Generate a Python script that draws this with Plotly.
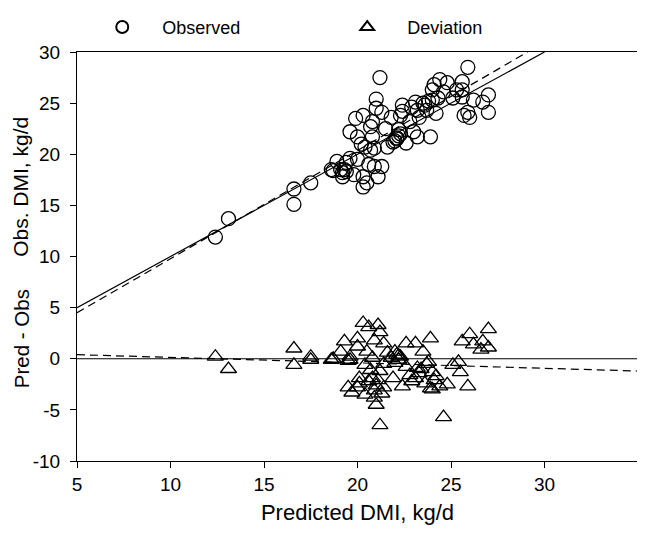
import plotly.graph_objects as go

# Observed DMI (circles): predicted vs observed, kg/d
obs_pred = [12.4, 13.1, 16.6, 16.6, 17.5, 18.7, 21.2, 25.9, 21.0, 20.3,
            20.8, 21.0, 21.3, 19.6, 20.0, 20.7, 20.8, 20.4, 20.7, 20.9,
            21.6, 19.6, 19.4, 19.1, 18.6, 19.2, 19.8, 20.3, 20.3, 20.5,
            21.1, 20.9, 21.3, 21.8, 22.4, 22.3, 22.8, 22.2, 22.1, 22.6,
            23.2, 23.9, 23.0, 23.1, 23.5, 23.7, 23.2, 23.3, 24.0, 24.1,
            24.4, 24.8, 25.3, 25.6, 25.6, 25.6, 25.1, 24.0, 24.6, 26.2,
            27.0, 26.7, 27.0, 25.9, 25.7, 26.0, 22.0, 22.1, 22.2, 21.9,
            22.3, 19.2, 19.3, 19.4, 23.6, 23.8, 24.3, 19.9, 20.0, 20.6,
            22.4, 21.5, 18.9, 24.2, 22.9, 20.2]
obs_val = [11.9, 13.7, 16.6, 15.1, 17.2, 18.4, 27.5, 28.5, 25.4, 23.8,
           23.2, 24.5, 24.1, 22.2, 21.7, 22.7, 21.7, 20.7, 20.4, 20.6,
           20.7, 19.6, 19.2, 18.5, 18.5, 17.8, 18.0, 17.8, 16.8, 17.2,
           17.8, 18.8, 18.8, 23.6, 24.8, 23.8, 23.2, 22.4, 21.6, 21.1,
           21.7, 21.7, 22.2, 25.1, 25.0, 24.3, 24.3, 23.6, 26.3, 26.8,
           27.3, 27.0, 26.3, 27.1, 26.3, 25.6, 25.5, 25.3, 26.1, 25.3,
           25.8, 25.1, 24.1, 24.1, 23.8, 23.6, 21.3, 21.5, 21.8, 21.2,
           22.0, 18.2, 18.5, 18.3, 24.8, 25.2, 25.5, 23.5, 19.5, 19.0,
           24.2, 22.5, 19.3, 24.0, 24.6, 21.0]

# Deviation (triangles): predicted minus observed, kg/d
dev_pred = [12.4, 13.1, 16.6, 16.6, 17.5, 18.7, 17.5, 18.6, 19.1, 19.3,
            19.6, 19.5, 20.0, 20.0, 20.3, 20.6, 21.1, 21.2, 20.9, 21.4,
            20.5, 20.8, 20.4, 20.7, 20.1, 20.8, 21.1, 21.4, 20.4, 20.9,
            21.0, 21.2, 20.0, 21.6, 22.0, 22.2, 22.3, 22.6, 23.1, 23.5,
            23.9, 21.9, 22.4, 22.8, 22.6, 23.2, 23.1, 23.3, 23.6, 23.9,
            24.0, 24.1, 24.4, 24.8, 23.8, 24.0, 24.6, 25.1, 25.4, 25.5,
            25.9, 25.6, 26.0, 26.2, 26.7, 27.0, 27.0, 26.6, 19.5, 20.1,
            20.9, 21.0, 21.2, 21.4, 21.8, 22.2, 19.6, 19.7, 22.0, 22.1,
            23.4, 23.7, 24.2, 20.6, 21.3, 22.9]
dev_val = [0.2, -1.0, 1.0, -0.6, 0.2, 0.0, -0.1, -0.1, 0.7, 1.7,
           -0.1, -2.8, 1.2, 2.0, 3.5, 3.1, 3.3, 2.6, 1.8, 1.5,
           0.7, 0.1, -0.6, -1.1, -1.9, -1.9, -2.1, -2.8, -3.5, -3.8,
           -4.5, -6.5, -2.8, 0.6, 0.7, -0.1, 0.2, 1.5, 1.5, 0.7,
           2.0, -1.9, -2.7, -1.6, -0.8, -0.9, -1.9, -1.4, -2.4, -2.9,
           -1.3, -2.1, -2.7, -2.5, -0.3, -3.0, -5.7, -0.6, -0.3, -1.3,
           -2.7, 1.7, 2.4, 1.4, 1.7, 2.9, 1.1, 0.9, -0.2, -2.4,
           -3.1, -2.6, -1.2, -0.5, 0.1, 0.3, 0.2, -3.3, -0.4, 0.4,
           -1.0, -0.5, -1.7, -2.2, -3.4, -2.2]

# Reference and regression lines
identity_x = [5, 30]
identity_y = [5, 30]
fit_obs_x = [5, 29.1]
fit_obs_y = [4.5, 30]
zero_x = [5, 35]
zero_y = [0, 0]
fit_dev_x = [5, 35]
fit_dev_y = [0.4, -1.2]

x_ticks = [5, 10, 15, 20, 25, 30, 35]
x_tick_labels = ["5", "10", "15", "20", "25", "30", "35"]
y_ticks = [-10, -5, 0, 5, 10, 15, 20, 25, 30]
y_tick_labels = ["-10", "-5", "0", "5", "10", "15", "20", "25", "30"]

FONT = "Liberation Sans, Arial, sans-serif"

fig = go.Figure()
fig.add_trace(go.Scatter(x=identity_x, y=identity_y, mode="lines",
                         line=dict(color="black", width=1.2), showlegend=False,
                         hoverinfo="skip"))
fig.add_trace(go.Scatter(x=fit_obs_x, y=fit_obs_y, mode="lines",
                         line=dict(color="black", width=1.2, dash="8px,5px"),
                         showlegend=False, hoverinfo="skip"))
fig.add_trace(go.Scatter(x=zero_x, y=zero_y, mode="lines",
                         line=dict(color="black", width=1.2), showlegend=False,
                         hoverinfo="skip"))
fig.add_trace(go.Scatter(x=fit_dev_x, y=fit_dev_y, mode="lines",
                         line=dict(color="black", width=1.2, dash="8px,5px"),
                         showlegend=False, hoverinfo="skip"))
fig.add_trace(go.Scatter(x=obs_pred, y=obs_val, mode="markers", name="    Observed",
                         marker=dict(symbol="circle-open", size=14, color="black",
                                     line=dict(width=1.3, color="black"))))
fig.add_trace(go.Scatter(x=dev_pred, y=dev_val, mode="markers", name="    Deviation",
                         marker=dict(symbol="triangle-up-open", size=14, color="black",
                                     line=dict(width=1.3, color="black"))))

axis_common = dict(showgrid=False, zeroline=False, showline=True, mirror=True,
                   linecolor="black", linewidth=1.2, ticks="outside", ticklen=6,
                   tickwidth=1.2, tickcolor="black",
                   tickfont=dict(family=FONT, size=19, color="black"))

fig.update_xaxes(range=[5, 35], tickvals=x_ticks, ticktext=x_tick_labels,
                 automargin=False, **axis_common,
                 title=dict(text="Predicted DMI, kg/d",
                            font=dict(family=FONT, size=22, color="black"),
                            standoff=10))
fig.update_yaxes(range=[-10, 30], tickvals=y_ticks, ticktext=y_tick_labels,
                 automargin=False, ticklabelstandoff=6, **axis_common)

fig.add_annotation(text="Obs. DMI, kg/d", xref="paper", yref="y", x=-0.1, y=16.8,
                   xanchor="center", yanchor="middle",
                   textangle=-90, showarrow=False,
                   font=dict(family=FONT, size=21, color="black"))
fig.add_annotation(text="Pred - Obs", xref="paper", yref="y", x=-0.1, y=2.0,
                   xanchor="center", yanchor="middle",
                   textangle=-90, showarrow=False,
                   font=dict(family=FONT, size=20.5, color="black"))

# page body has an 8px default margin; compensate so the plot lands where the reference has it
fig.update_layout(
    width=637, height=530,
    margin=dict(l=69, r=7, t=44, b=77, autoexpand=False),
    paper_bgcolor="white", plot_bgcolor="white",
    font=dict(family=FONT, size=19, color="black"),
    legend=dict(orientation="h", x=0.045, y=1.015, xanchor="left", yanchor="bottom",
                entrywidth=200, entrywidthmode="pixels", itemsizing="constant",
                font=dict(family=FONT, size=18, color="black"),
                bgcolor="rgba(0,0,0,0)"),
)

fig.write_html("out.html")
